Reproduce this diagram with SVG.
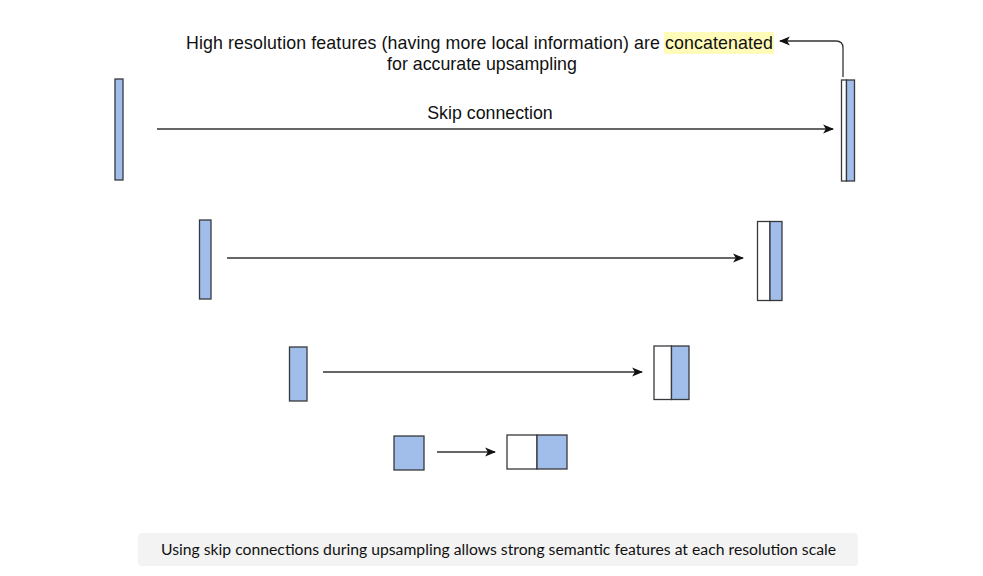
<svg xmlns="http://www.w3.org/2000/svg" width="983" height="576" viewBox="0 0 983 576">
<style>
.b{fill:#a0bee9;stroke:#36393d;stroke-width:1.3}
.w{fill:#ffffff;stroke:#36393d;stroke-width:1.3}
.c{fill:none;stroke:#333333;stroke-width:1.3}
.t{font-family:"Liberation Sans",Arial,sans-serif;font-size:17.8px;fill:#111111}
.cap{font-family:Lato,"Open Sans",sans-serif;font-size:15.5px;fill:#111111}
</style>
<defs>
<marker id="ah" viewBox="0 0 10 10" refX="9" refY="5" markerWidth="11" markerHeight="11" markerUnits="userSpaceOnUse" orient="auto">
<path d="M0,1 L10,5 L0,9 L2.5,5 Z" fill="#111111"/>
</marker>
</defs>
<rect width="983" height="576" fill="#ffffff"/>
<g id="title">
<rect x="664" y="32" width="110" height="22" fill="#fffbb8"/>
<text class="t" x="186" y="49" textLength="587" lengthAdjust="spacing">High resolution features (having more local information) are concatenated</text>
<text class="t" x="482" y="70" text-anchor="middle">for accurate upsampling</text>
</g>
<g id="enc1"><rect class="b" x="115" y="79" width="8" height="101"/></g>
<g id="dec1"><rect class="w" x="841.5" y="80" width="5" height="101"/><rect class="b" x="846.5" y="80" width="8" height="101"/></g>
<g id="enc2"><rect class="b" x="199.5" y="220" width="11.5" height="79"/></g>
<g id="dec2"><rect class="w" x="757.5" y="221.5" width="12.5" height="79"/><rect class="b" x="770" y="221.5" width="12" height="79"/></g>
<g id="enc3"><rect class="b" x="289.5" y="347" width="17.5" height="54"/></g>
<g id="dec3"><rect class="w" x="654" y="346" width="17.5" height="53.5"/><rect class="b" x="671.5" y="346" width="17.5" height="53.5"/></g>
<g id="enc4"><rect class="b" x="394" y="436" width="30" height="34"/></g>
<g id="dec4"><rect class="w" x="507" y="435" width="30" height="34"/><rect class="b" x="537" y="435" width="30" height="34"/></g>
<g id="label"><text class="t" x="490" y="119" text-anchor="middle">Skip connection</text></g>
<g id="connectors">
<line class="c" x1="157" y1="129" x2="833" y2="129" marker-end="url(#ah)"/>
<line class="c" x1="227" y1="258" x2="743" y2="258" marker-end="url(#ah)"/>
<line class="c" x1="323" y1="372" x2="642" y2="372" marker-end="url(#ah)"/>
<line class="c" x1="437" y1="452" x2="495" y2="452" marker-end="url(#ah)"/>
<path class="c" d="M843,77 L843,48 Q843,41 836,41 L780,41" marker-end="url(#ah)"/>
</g>
<g id="caption">
<rect x="138" y="533" width="720" height="33" rx="4" fill="#f3f3f3"/>
<text class="cap" x="161" y="555" textLength="675" lengthAdjust="spacingAndGlyphs">Using skip connections during upsampling allows strong semantic features at each resolution scale</text>
</g>
</svg>
